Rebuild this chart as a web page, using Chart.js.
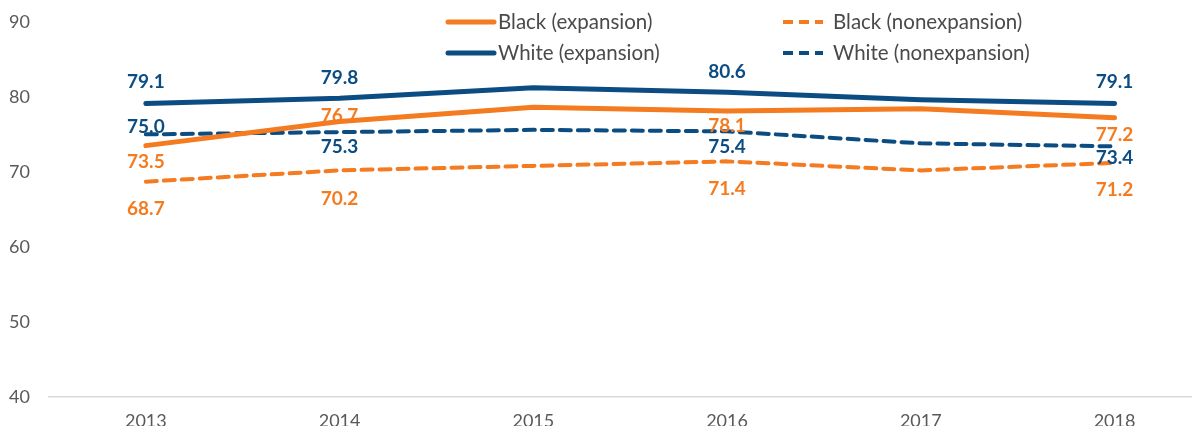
<!DOCTYPE html>
<html>
<head>
<meta charset="utf-8">
<script src="https://cdn.jsdelivr.net/npm/chart.js@4"></script>
<style>
  html, body { margin: 0; padding: 0; background: #fff; }
  #wrap { width: 1192px; height: 426px; position: relative; }
</style>
</head>
<body>
<div id="wrap"><canvas id="c" width="1192" height="426"></canvas></div>
<script>
const years = ['2013', '2014', '2015', '2016', '2017', '2018'];
const yTicks = [40, 50, 60, 70, 80, 90];
const blackExpansion = [73.5, 76.7, 78.6, 78.1, 78.4, 77.2];
const blackNonexpansion = [68.7, 70.2, 70.8, 71.4, 70.2, 71.2];
const whiteExpansion = [79.1, 79.8, 81.2, 80.6, 79.6, 79.1];
const whiteNonexpansion = [75.0, 75.3, 75.6, 75.4, 73.8, 73.4];
const labelledYears = ['2013', '2014', '2016', '2018'];

const ORANGE = '#F47B20';
const BLUE = '#0B4C82';
const FONT = 'Lato, "Open Sans", sans-serif';

function pts(arr) { return arr.map((v, i) => ({ x: i, y: v })); }

const datasets = [
  { label: 'Black (expansion)', data: pts(blackExpansion), borderColor: ORANGE, borderWidth: 5,
    labelDy: [16, -6, 0, 15, 0, 17] },
  { label: 'Black (nonexpansion)', data: pts(blackNonexpansion), borderColor: ORANGE, borderWidth: 4,
    borderDash: [11, 7], labelDy: [27, 28, 0, 28, 0, 27] },
  { label: 'White (expansion)', data: pts(whiteExpansion), borderColor: BLUE, borderWidth: 5,
    labelDy: [-22, -20, 0, -20, 0, -22] },
  { label: 'White (nonexpansion)', data: pts(whiteNonexpansion), borderColor: BLUE, borderWidth: 4,
    borderDash: [11, 7], labelDy: [-7, 15, 0, 16, 0, 12] }
];
datasets.forEach(d => { d.pointRadius = 0; d.tension = 0; d.fill = false; d.borderCapStyle = 'round'; d.borderJoinStyle = 'round'; });

const valueLabels = {
  id: 'valueLabels',
  afterDatasetsDraw(chart) {
    const ctx = chart.ctx;
    ctx.save();
    ctx.font = 'bold 19px ' + FONT;
    ctx.textAlign = 'center';
    ctx.textBaseline = 'middle';
    chart.data.datasets.forEach((ds, di) => {
      const meta = chart.getDatasetMeta(di);
      meta.data.forEach((pt, i) => {
        if (!labelledYears.includes(years[i])) return;
        ctx.fillStyle = ds.borderColor;
        ctx.fillText(ds.data[i].y.toFixed(1), pt.x, pt.y + ds.labelDy[i]);
      });
    });
    ctx.restore();
  }
};

const customLegend = {
  id: 'customLegend',
  afterDraw(chart) {
    const ctx = chart.ctx;
    ctx.save();
    ctx.font = '20.5px ' + FONT;
    ctx.textBaseline = 'middle';
    ctx.textAlign = 'left';
    const cols = [{ x0: 448, x1: 494, tx: 498 }, { x0: 783, x1: 823, tx: 833 }];
    const rows = [22, 53];
    const order = [[0, 0, 0], [1, 0, 1], [2, 1, 0], [3, 1, 1]]; // dataset, row, col
    order.forEach(([di, r, c]) => {
      const ds = chart.data.datasets[di];
      const col = cols[c];
      const y = rows[r];
      ctx.strokeStyle = ds.borderColor;
      ctx.lineWidth = ds.borderDash ? 4 : 5;
      ctx.lineCap = ds.borderDash ? 'butt' : 'round';
      ctx.setLineDash(ds.borderDash ? [10, 6] : []);
      ctx.beginPath();
      ctx.moveTo(col.x0, y);
      ctx.lineTo(col.x1, y);
      ctx.stroke();
      ctx.setLineDash([]);
      ctx.fillStyle = '#4a4a4d';
      ctx.fillText(ds.label, col.tx, y);
    });
    ctx.restore();
  }
};

new Chart(document.getElementById('c'), {
  type: 'line',
  data: { datasets },
  options: {
    responsive: false,
    animation: false,
    layout: { padding: { top: 17, left: 0, right: 0, bottom: 0 } },
    plugins: { legend: { display: false }, tooltip: { enabled: false } },
    scales: {
      x: {
        type: 'linear',
        min: -0.5,
        max: 5.4,
        afterBuildTicks(scale) { scale.ticks = years.map((_, i) => ({ value: i })); },
        afterFit(scale) { scale.height = 29; },
        ticks: {
          callback: (v) => years[v],
          color: '#595959',
          font: { family: FONT, size: 18 },
          padding: 5,
          maxRotation: 0,
          autoSkip: false
        },
        grid: { display: false },
        border: { display: true, color: '#d9d9d9', width: 1.5 }
      },
      y: {
        min: 40,
        max: 90,
        afterBuildTicks(scale) { scale.ticks = yTicks.map(v => ({ value: v })); },
        afterFit(scale) { scale.width = 49; },
        ticks: {
          color: '#595959',
          font: { family: FONT, size: 18 },
          padding: 11
        },
        grid: { display: false },
        border: { display: false }
      }
    }
  },
  plugins: [valueLabels, customLegend]
});
</script>
</body>
</html>
